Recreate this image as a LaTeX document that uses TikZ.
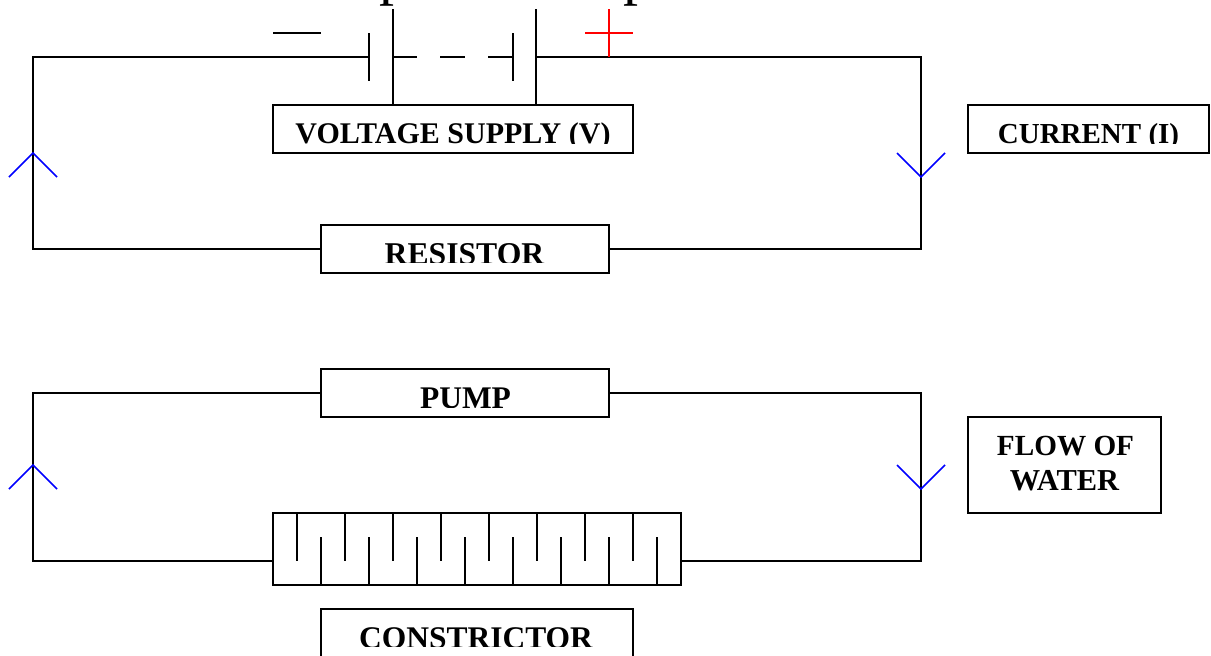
\documentclass[tikz,border=0pt]{standalone}
\usepackage{fontspec}
\setmainfont{Liberation Serif}
\tikzset{
  wire/.style={draw=black,line width=1.8pt},
  boxnode/.style={draw=black,line width=1.8pt,fill=white,inner sep=0pt},
  flowmark/.style={draw=blue,line width=1.7pt},
  plus/.style={draw=red,line width=1.7pt},
  lab/.style={inner sep=0pt,align=center,anchor=base},
  big/.style={font=\fontsize{60}{60}\selectfont,inner sep=0pt,anchor=base}
}
\newcommand{\labfont}[1]{\fontsize{#1}{36}\selectfont\bfseries}
\newcommand{\clippedlabel}[7]{% name, x, baseline, clip top, clip bottom, size, text
  \begin{scope}\clip (#2-200,#4) rectangle (#2+200,#5);
  \node[lab,font=\labfont{#6}] (#1) at (#2,#3) {#7};\end{scope}}
\begin{document}
\begin{tikzpicture}[x=1pt,y=-1pt]
\useasboundingbox (0,0) rectangle (1211,656);
\begin{scope}
\clip (0,0) rectangle (1211,656);
% boxes
\node[boxnode,minimum width=360pt,minimum height=48pt] (vbox) at (453,129) {};
\node[boxnode,minimum width=241pt,minimum height=48pt] (ibox) at (1088.5,129) {};
\node[boxnode,minimum width=288pt,minimum height=48pt] (rbox) at (465,249) {};
\node[boxnode,minimum width=288pt,minimum height=48pt] (pbox) at (465,393) {};
\node[boxnode,minimum width=193pt,minimum height=96pt] (fbox) at (1064.5,465) {};
\node[boxnode,minimum width=408pt,minimum height=72pt] (cbox) at (477,549) {};
% constrictor label box, running off the page
\coordinate (lbl) at (321,609); \coordinate (lbr) at (633,609);
\coordinate (lbbl) at (321,670); \coordinate (lbbr) at (633,670);
\draw[wire] (lbbl) -- (lbl) -- (lbr) -- (lbbr);
% upper circuit
\coordinate (ul) at (33,57); \coordinate (ll) at (33,249);
\coordinate (ur) at (921,57); \coordinate (lr) at (921,249);
\coordinate (p1) at (369,57); \coordinate (p1t) at (369,33); \coordinate (p1b) at (369,81);
\coordinate (p2) at (392.8,57); \coordinate (p2t) at (392.8,9);
\coordinate (p3) at (513,57); \coordinate (p3t) at (513,33); \coordinate (p3b) at (513,81);
\coordinate (p4) at (536,57); \coordinate (p4t) at (536,9);
\coordinate (d1) at (417,57); \coordinate (d2) at (440,57); \coordinate (d3) at (465,57); \coordinate (d4) at (488,57);
\draw[wire] (rbox.west) -- (ll) -- (ul) -- (p1);
\draw[wire] (p1t) -- (p1b);
\draw[wire] (p2t) -- (p2 |- vbox.north);
\draw[wire] (p2) -- (d1);
\draw[wire] (d2) -- (d3);
\draw[wire] (d4) -- (p3);
\draw[wire] (p3t) -- (p3b);
\draw[wire] (p4t) -- (p4 |- vbox.north);
\draw[wire] (p4) -- (ur) -- (lr) -- (rbox.east);
% polarity
\coordinate (mn1) at (273,33); \coordinate (mn2) at (321,33);
\draw[wire] (mn1) -- (mn2);
\coordinate (pl1) at (585,33); \coordinate (pl2) at (633,33); \coordinate (pl3) at (609,9); \coordinate (pl4) at (609,57);
\draw[plus] (pl1) -- (pl2);
\draw[plus] (pl3) -- (pl4);
% lower circuit
\coordinate (ul2) at (33,393); \coordinate (ll2) at (33,561);
\coordinate (ur2) at (921,393); \coordinate (lr2) at (921,561);
\draw[wire] (cbox.west |- ll2) -- (ll2) -- (ul2) -- (pbox.west);
\draw[wire] (pbox.east) -- (ur2) -- (lr2) -- (cbox.east |- lr2);
% constrictor fins
\foreach \i in {0,...,7}{
  \draw[wire] (296.8+48*\i,513) -- (296.8+48*\i,561);
  \draw[wire] (321+48*\i,537) -- (321+48*\i,585);
}
% flow marks
\foreach \n/\x/\y/\d in {a/33/153/24,b/33/465/24,c/921/177/-24,d/921/489/-24}{
  \coordinate (m\n) at (\x,\y);
  \coordinate (m\n l) at (\x-24,\y+\d);
  \coordinate (m\n r) at (\x+24,\y+\d);
  \draw[flowmark] (m\n l) -- (m\n) -- (m\n r);
}
% clipped big letters
\node[big] (pa) at (394.5,-7) {p};
\node[big] (pb) at (638,-7) {p};
% labels
\clippedlabel{tv}{453}{143.5}{106}{143.5}{30}{VOLTAGE SUPPLY (V)}
\clippedlabel{ti}{1088.5}{143.5}{106}{143.5}{29}{CURRENT (I)}
\clippedlabel{tr}{464.5}{264.5}{226}{262.5}{31.7}{RESISTOR}
\clippedlabel{tp}{465.5}{408.5}{370}{407}{31.5}{PUMP}
\clippedlabel{tc}{476}{648.5}{610}{646}{31.5}{CONSTRICTOR}
\node[lab,font=\labfont{29.2}] (tf1) at (1065.5,455) {FLOW OF};
\node[lab,font=\labfont{30.4}] (tf2) at (1064.5,490) {WATER};
\end{scope}
\end{tikzpicture}
\end{document}
